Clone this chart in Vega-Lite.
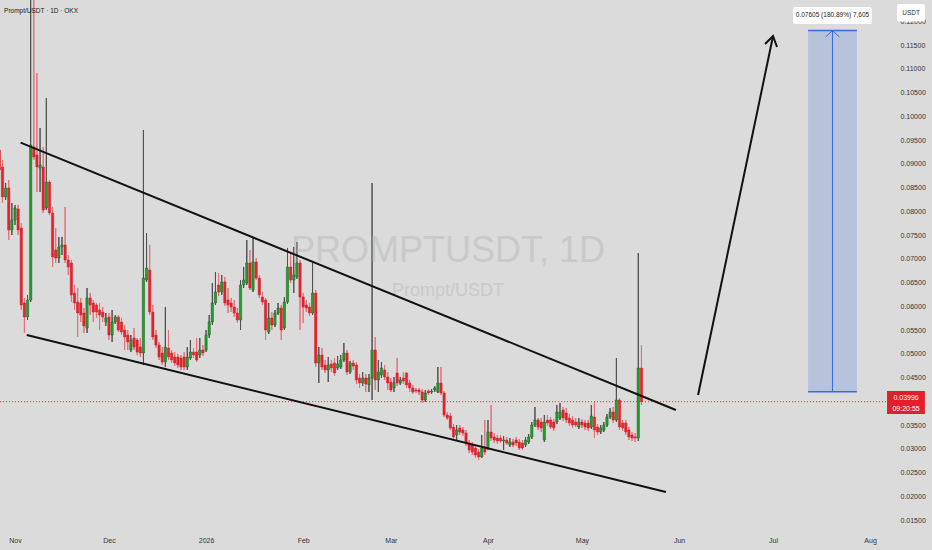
{
"$schema": "https://vega.github.io/schema/vega-lite/v6.json",
"width": 886, "height": 526, "autosize": {"type": "none"}, "padding": {"left": 0, "top": 0, "right": 46, "bottom": 24},
"background": "#dbdbdb",
"config": {"view": {"stroke": null}, "font": "Liberation Sans, Arial, sans-serif",
 "axis": {"labelOverlap": false, "labelFlush": false, "ticks": false, "domain": false, "grid": false}},
"datasets": {
"candles": [
{"t":"2025-10-27","o":0.09294,"h":0.09358,"l":0.08516,"c":0.08873},
{"t":"2025-10-28","o":0.08937,"h":0.09084,"l":0.08179,"c":0.08305},
{"t":"2025-10-29","o":0.08305,"h":0.08600,"l":0.08242,"c":0.08495},
{"t":"2025-10-30","o":0.08495,"h":0.08663,"l":0.07400,"c":0.07611},
{"t":"2025-10-31","o":0.07611,"h":0.08179,"l":0.07505,"c":0.07821},
{"t":"2025-11-01","o":0.07821,"h":0.08137,"l":0.07716,"c":0.08074},
{"t":"2025-11-02","o":0.08053,"h":0.08137,"l":0.07505,"c":0.07611},
{"t":"2025-11-03","o":0.07653,"h":0.07758,"l":0.05926,"c":0.06032},
{"t":"2025-11-04","o":0.06074,"h":0.06179,"l":0.05442,"c":0.05779},
{"t":"2025-11-05","o":0.05779,"h":0.06242,"l":0.05716,"c":0.06137},
{"t":"2025-11-06","o":0.06137,"h":0.135,"l":0.06095,"c":0.09400},
{"t":"2025-11-07","o":0.09358,"h":0.13,"l":0.09084,"c":0.09147},
{"t":"2025-11-08","o":0.09189,"h":0.10916,"l":0.08410,"c":0.08937},
{"t":"2025-11-09","o":0.08916,"h":0.09758,"l":0.08410,"c":0.08979},
{"t":"2025-11-10","o":0.08937,"h":0.09358,"l":0.07968,"c":0.08032},
{"t":"2025-11-11","o":0.08074,"h":0.10390,"l":0.08032,"c":0.08621},
{"t":"2025-11-12","o":0.08621,"h":0.08663,"l":0.07926,"c":0.07968},
{"t":"2025-11-13","o":0.07968,"h":0.08095,"l":0.06832,"c":0.07042},
{"t":"2025-11-14","o":0.07189,"h":0.07653,"l":0.06916,"c":0.07021},
{"t":"2025-11-15","o":0.07021,"h":0.07463,"l":0.06916,"c":0.07253},
{"t":"2025-11-16","o":0.07253,"h":0.07463,"l":0.07084,"c":0.07295},
{"t":"2025-11-17","o":0.07295,"h":0.08095,"l":0.06916,"c":0.06979},
{"t":"2025-11-18","o":0.06979,"h":0.07084,"l":0.06663,"c":0.06832},
{"t":"2025-11-19","o":0.06916,"h":0.06979,"l":0.06095,"c":0.06242},
{"t":"2025-11-20","o":0.06284,"h":0.06453,"l":0.05926,"c":0.06074},
{"t":"2025-11-21","o":0.06095,"h":0.06389,"l":0.05358,"c":0.05863},
{"t":"2025-11-22","o":0.06074,"h":0.06179,"l":0.05674,"c":0.05821},
{"t":"2025-11-23","o":0.05863,"h":0.05968,"l":0.05442,"c":0.05590},
{"t":"2025-11-24","o":0.05547,"h":0.06389,"l":0.05442,"c":0.06179},
{"t":"2025-11-25","o":0.06179,"h":0.06284,"l":0.05821,"c":0.06032},
{"t":"2025-11-26","o":0.06074,"h":0.06137,"l":0.05674,"c":0.05884},
{"t":"2025-11-27","o":0.06032,"h":0.06074,"l":0.05758,"c":0.05884},
{"t":"2025-11-28","o":0.05926,"h":0.06074,"l":0.05505,"c":0.05821},
{"t":"2025-11-29","o":0.05884,"h":0.05990,"l":0.05674,"c":0.05779},
{"t":"2025-11-30","o":0.05674,"h":0.05863,"l":0.05590,"c":0.05758},
{"t":"2025-12-01","o":0.05779,"h":0.05863,"l":0.05295,"c":0.05400},
{"t":"2025-12-02","o":0.05400,"h":0.05926,"l":0.05253,"c":0.05674},
{"t":"2025-12-03","o":0.05674,"h":0.05821,"l":0.05632,"c":0.05779},
{"t":"2025-12-04","o":0.05779,"h":0.05821,"l":0.05463,"c":0.05505},
{"t":"2025-12-05","o":0.05674,"h":0.05758,"l":0.05400,"c":0.05463},
{"t":"2025-12-06","o":0.05505,"h":0.05611,"l":0.05084,"c":0.05358},
{"t":"2025-12-07","o":0.05400,"h":0.05505,"l":0.05084,"c":0.05253},
{"t":"2025-12-08","o":0.05084,"h":0.05400,"l":0.05042,"c":0.05295},
{"t":"2025-12-09","o":0.05337,"h":0.05547,"l":0.05084,"c":0.05147},
{"t":"2025-12-10","o":0.05295,"h":0.05337,"l":0.04979,"c":0.05042},
{"t":"2025-12-11","o":0.05147,"h":0.05337,"l":0.04937,"c":0.05021},
{"t":"2025-12-12","o":0.05021,"h":0.09716,"l":0.04768,"c":0.06600},
{"t":"2025-12-13","o":0.06558,"h":0.07547,"l":0.06516,"c":0.06810},
{"t":"2025-12-14","o":0.06768,"h":0.07295,"l":0.05821,"c":0.05884},
{"t":"2025-12-15","o":0.05884,"h":0.06032,"l":0.05295,"c":0.05358},
{"t":"2025-12-16","o":0.05400,"h":0.05505,"l":0.05126,"c":0.05189},
{"t":"2025-12-17","o":0.05189,"h":0.05253,"l":0.04874,"c":0.04937},
{"t":"2025-12-18","o":0.05021,"h":0.05147,"l":0.04768,"c":0.04832},
{"t":"2025-12-19","o":0.04832,"h":0.05990,"l":0.04726,"c":0.05147},
{"t":"2025-12-20","o":0.05126,"h":0.05505,"l":0.04874,"c":0.04937},
{"t":"2025-12-21","o":0.05021,"h":0.05084,"l":0.04811,"c":0.04874},
{"t":"2025-12-22","o":0.04937,"h":0.05042,"l":0.04747,"c":0.04811},
{"t":"2025-12-23","o":0.04937,"h":0.05000,"l":0.04705,"c":0.04768},
{"t":"2025-12-24","o":0.04916,"h":0.04979,"l":0.04663,"c":0.04726},
{"t":"2025-12-25","o":0.04937,"h":0.05042,"l":0.04663,"c":0.04726},
{"t":"2025-12-26","o":0.04726,"h":0.05147,"l":0.04663,"c":0.04937},
{"t":"2025-12-27","o":0.04916,"h":0.05295,"l":0.04874,"c":0.05042},
{"t":"2025-12-28","o":0.05042,"h":0.05126,"l":0.04916,"c":0.04979},
{"t":"2025-12-29","o":0.05042,"h":0.05337,"l":0.04832,"c":0.04874},
{"t":"2025-12-30","o":0.04979,"h":0.05337,"l":0.04916,"c":0.05084},
{"t":"2025-12-31","o":0.05084,"h":0.05189,"l":0.04958,"c":0.05021},
{"t":"2026-01-01","o":0.05084,"h":0.05505,"l":0.05042,"c":0.05400},
{"t":"2026-01-02","o":0.05400,"h":0.05821,"l":0.05337,"c":0.05674},
{"t":"2026-01-03","o":0.05674,"h":0.06495,"l":0.05611,"c":0.06074},
{"t":"2026-01-04","o":0.06074,"h":0.06726,"l":0.06032,"c":0.06305},
{"t":"2026-01-05","o":0.06453,"h":0.06705,"l":0.06221,"c":0.06305},
{"t":"2026-01-06","o":0.06305,"h":0.06663,"l":0.06242,"c":0.06516},
{"t":"2026-01-07","o":0.06516,"h":0.06621,"l":0.06011,"c":0.06074},
{"t":"2026-01-08","o":0.06137,"h":0.06389,"l":0.05863,"c":0.06032},
{"t":"2026-01-09","o":0.06074,"h":0.06179,"l":0.05884,"c":0.05990},
{"t":"2026-01-10","o":0.05990,"h":0.06137,"l":0.05779,"c":0.05863},
{"t":"2026-01-11","o":0.05863,"h":0.05968,"l":0.05653,"c":0.05716},
{"t":"2026-01-12","o":0.05716,"h":0.06558,"l":0.05505,"c":0.06453},
{"t":"2026-01-13","o":0.06453,"h":0.06832,"l":0.06389,"c":0.06558},
{"t":"2026-01-14","o":0.06495,"h":0.07400,"l":0.06453,"c":0.06916},
{"t":"2026-01-15","o":0.06916,"h":0.07189,"l":0.06347,"c":0.06389},
{"t":"2026-01-16","o":0.06347,"h":0.07463,"l":0.06305,"c":0.06937},
{"t":"2026-01-17","o":0.06937,"h":0.07021,"l":0.06558,"c":0.06600},
{"t":"2026-01-18","o":0.06600,"h":0.06663,"l":0.06179,"c":0.06242},
{"t":"2026-01-19","o":0.06200,"h":0.06305,"l":0.06032,"c":0.06095},
{"t":"2026-01-20","o":0.06137,"h":0.06179,"l":0.05295,"c":0.05505},
{"t":"2026-01-21","o":0.05463,"h":0.06074,"l":0.05421,"c":0.05758},
{"t":"2026-01-22","o":0.05758,"h":0.05884,"l":0.05505,"c":0.05611},
{"t":"2026-01-23","o":0.05611,"h":0.05926,"l":0.05568,"c":0.05863},
{"t":"2026-01-24","o":0.05863,"h":0.06074,"l":0.05821,"c":0.05968},
{"t":"2026-01-25","o":0.05968,"h":0.06032,"l":0.05295,"c":0.05505},
{"t":"2026-01-26","o":0.05547,"h":0.06200,"l":0.05505,"c":0.06095},
{"t":"2026-01-27","o":0.06095,"h":0.07232,"l":0.06053,"c":0.06832},
{"t":"2026-01-28","o":0.06832,"h":0.07126,"l":0.06495,"c":0.06558},
{"t":"2026-01-29","o":0.06558,"h":0.07253,"l":0.06284,"c":0.06663},
{"t":"2026-01-30","o":0.06621,"h":0.07358,"l":0.06579,"c":0.06916},
{"t":"2026-01-31","o":0.06916,"h":0.06979,"l":0.05505,"c":0.06200},
{"t":"2026-02-01","o":0.06200,"h":0.06284,"l":0.05653,"c":0.05990},
{"t":"2026-02-02","o":0.06032,"h":0.06137,"l":0.05884,"c":0.05968},
{"t":"2026-02-03","o":0.05990,"h":0.06074,"l":0.05800,"c":0.05863},
{"t":"2026-02-04","o":0.05863,"h":0.06916,"l":0.05821,"c":0.06284},
{"t":"2026-02-05","o":0.06284,"h":0.06347,"l":0.04726,"c":0.04811},
{"t":"2026-02-06","o":0.04811,"h":0.05147,"l":0.04389,"c":0.04979},
{"t":"2026-02-07","o":0.04979,"h":0.05126,"l":0.04663,"c":0.04726},
{"t":"2026-02-08","o":0.04768,"h":0.04874,"l":0.04600,"c":0.04663},
{"t":"2026-02-09","o":0.04663,"h":0.04937,"l":0.04411,"c":0.04768},
{"t":"2026-02-10","o":0.04790,"h":0.04874,"l":0.04621,"c":0.04705},
{"t":"2026-02-11","o":0.04811,"h":0.04916,"l":0.04537,"c":0.04600},
{"t":"2026-02-12","o":0.04705,"h":0.04958,"l":0.04663,"c":0.04790},
{"t":"2026-02-13","o":0.04726,"h":0.04979,"l":0.04684,"c":0.04874},
{"t":"2026-02-14","o":0.04874,"h":0.05232,"l":0.04832,"c":0.05021},
{"t":"2026-02-15","o":0.05021,"h":0.05084,"l":0.04558,"c":0.04621},
{"t":"2026-02-16","o":0.04621,"h":0.04853,"l":0.04579,"c":0.04811},
{"t":"2026-02-17","o":0.04811,"h":0.04874,"l":0.04663,"c":0.04747},
{"t":"2026-02-18","o":0.04768,"h":0.04832,"l":0.04368,"c":0.04453},
{"t":"2026-02-19","o":0.04495,"h":0.04579,"l":0.04284,"c":0.04389},
{"t":"2026-02-20","o":0.04389,"h":0.04621,"l":0.04326,"c":0.04495},
{"t":"2026-02-21","o":0.04495,"h":0.04579,"l":0.04200,"c":0.04368},
{"t":"2026-02-22","o":0.04347,"h":0.04579,"l":0.04200,"c":0.04495},
{"t":"2026-02-23","o":0.04495,"h":0.08600,"l":0.04032,"c":0.05084},
{"t":"2026-02-24","o":0.05084,"h":0.05358,"l":0.04242,"c":0.04453},
{"t":"2026-02-25","o":0.04453,"h":0.04874,"l":0.04200,"c":0.04621},
{"t":"2026-02-26","o":0.04558,"h":0.04832,"l":0.04495,"c":0.04705},
{"t":"2026-02-27","o":0.04663,"h":0.04768,"l":0.04453,"c":0.04516},
{"t":"2026-02-28","o":0.04516,"h":0.04621,"l":0.04242,"c":0.04389},
{"t":"2026-03-01","o":0.04411,"h":0.04495,"l":0.04200,"c":0.04242},
{"t":"2026-03-02","o":0.04284,"h":0.04516,"l":0.04200,"c":0.04389},
{"t":"2026-03-03","o":0.04600,"h":0.04916,"l":0.04326,"c":0.04389},
{"t":"2026-03-04","o":0.04389,"h":0.04516,"l":0.04347,"c":0.04453},
{"t":"2026-03-05","o":0.04495,"h":0.04621,"l":0.04368,"c":0.04432},
{"t":"2026-03-06","o":0.04600,"h":0.04621,"l":0.04284,"c":0.04347},
{"t":"2026-03-07","o":0.04389,"h":0.04453,"l":0.04200,"c":0.04284},
{"t":"2026-03-08","o":0.04284,"h":0.04347,"l":0.04158,"c":0.04200},
{"t":"2026-03-09","o":0.04242,"h":0.04284,"l":0.04179,"c":0.04221},
{"t":"2026-03-10","o":0.04242,"h":0.04284,"l":0.04137,"c":0.04200},
{"t":"2026-03-11","o":0.04200,"h":0.04263,"l":0.03968,"c":0.04032},
{"t":"2026-03-12","o":0.04032,"h":0.04242,"l":0.03989,"c":0.04179},
{"t":"2026-03-13","o":0.04221,"h":0.04263,"l":0.04137,"c":0.04179},
{"t":"2026-03-14","o":0.04200,"h":0.04263,"l":0.04158,"c":0.04221},
{"t":"2026-03-15","o":0.04242,"h":0.04326,"l":0.04200,"c":0.04284},
{"t":"2026-03-16","o":0.04200,"h":0.04726,"l":0.04179,"c":0.04389},
{"t":"2026-03-17","o":0.04389,"h":0.04726,"l":0.04137,"c":0.04179},
{"t":"2026-03-18","o":0.04179,"h":0.04221,"l":0.03674,"c":0.03716},
{"t":"2026-03-19","o":0.03716,"h":0.03779,"l":0.03611,"c":0.03653},
{"t":"2026-03-20","o":0.03695,"h":0.03758,"l":0.03400,"c":0.03442},
{"t":"2026-03-21","o":0.03463,"h":0.03526,"l":0.03189,"c":0.03253},
{"t":"2026-03-22","o":0.03295,"h":0.03505,"l":0.03189,"c":0.03400},
{"t":"2026-03-23","o":0.03442,"h":0.03505,"l":0.03295,"c":0.03358},
{"t":"2026-03-24","o":0.03400,"h":0.03463,"l":0.03274,"c":0.03337},
{"t":"2026-03-25","o":0.03337,"h":0.03400,"l":0.03063,"c":0.03126},
{"t":"2026-03-26","o":0.03126,"h":0.03189,"l":0.02916,"c":0.02979},
{"t":"2026-03-27","o":0.03084,"h":0.03147,"l":0.02874,"c":0.02937},
{"t":"2026-03-28","o":0.03021,"h":0.03084,"l":0.02811,"c":0.02874},
{"t":"2026-03-29","o":0.02937,"h":0.03000,"l":0.02768,"c":0.02832},
{"t":"2026-03-30","o":0.02832,"h":0.03295,"l":0.02811,"c":0.03021},
{"t":"2026-03-31","o":0.03042,"h":0.03611,"l":0.02874,"c":0.02937},
{"t":"2026-04-01","o":0.03021,"h":0.03611,"l":0.02979,"c":0.03358},
{"t":"2026-04-02","o":0.03358,"h":0.03926,"l":0.03168,"c":0.03232},
{"t":"2026-04-03","o":0.03253,"h":0.03337,"l":0.03126,"c":0.03189},
{"t":"2026-04-04","o":0.03232,"h":0.03295,"l":0.03105,"c":0.03168},
{"t":"2026-04-05","o":0.03232,"h":0.03295,"l":0.03126,"c":0.03168},
{"t":"2026-04-06","o":0.03168,"h":0.03274,"l":0.02979,"c":0.03189},
{"t":"2026-04-07","o":0.03189,"h":0.03253,"l":0.03084,"c":0.03126},
{"t":"2026-04-08","o":0.03084,"h":0.03232,"l":0.03042,"c":0.03147},
{"t":"2026-04-09","o":0.03147,"h":0.03211,"l":0.03042,"c":0.03084},
{"t":"2026-04-10","o":0.03189,"h":0.03253,"l":0.03063,"c":0.03126},
{"t":"2026-04-11","o":0.03147,"h":0.03211,"l":0.02979,"c":0.03021},
{"t":"2026-04-12","o":0.03126,"h":0.03189,"l":0.02979,"c":0.03021},
{"t":"2026-04-13","o":0.03084,"h":0.03253,"l":0.03042,"c":0.03189},
{"t":"2026-04-14","o":0.03147,"h":0.03316,"l":0.03105,"c":0.03253},
{"t":"2026-04-15","o":0.03253,"h":0.03568,"l":0.03211,"c":0.03505},
{"t":"2026-04-16","o":0.03505,"h":0.03884,"l":0.03463,"c":0.03611},
{"t":"2026-04-17","o":0.03611,"h":0.03653,"l":0.03400,"c":0.03463},
{"t":"2026-04-18","o":0.03568,"h":0.03653,"l":0.03358,"c":0.03442},
{"t":"2026-04-19","o":0.03189,"h":0.03716,"l":0.03147,"c":0.03568},
{"t":"2026-04-20","o":0.03611,"h":0.03716,"l":0.03484,"c":0.03547},
{"t":"2026-04-21","o":0.03611,"h":0.03674,"l":0.03421,"c":0.03463},
{"t":"2026-04-22","o":0.03568,"h":0.03632,"l":0.03379,"c":0.03442},
{"t":"2026-04-23","o":0.03568,"h":0.03926,"l":0.03526,"c":0.03779},
{"t":"2026-04-24","o":0.03653,"h":0.03968,"l":0.03611,"c":0.03779},
{"t":"2026-04-25","o":0.03821,"h":0.03884,"l":0.03589,"c":0.03653},
{"t":"2026-04-26","o":0.03758,"h":0.03863,"l":0.03547,"c":0.03611},
{"t":"2026-04-27","o":0.03653,"h":0.03737,"l":0.03484,"c":0.03547},
{"t":"2026-04-28","o":0.03611,"h":0.03695,"l":0.03442,"c":0.03505},
{"t":"2026-04-29","o":0.03568,"h":0.03653,"l":0.03463,"c":0.03505},
{"t":"2026-04-30","o":0.03463,"h":0.03653,"l":0.03421,"c":0.03568},
{"t":"2026-05-01","o":0.03568,"h":0.03632,"l":0.03442,"c":0.03505},
{"t":"2026-05-02","o":0.03547,"h":0.03611,"l":0.03400,"c":0.03463},
{"t":"2026-05-03","o":0.03547,"h":0.03611,"l":0.03379,"c":0.03442},
{"t":"2026-05-04","o":0.03463,"h":0.03926,"l":0.03421,"c":0.03695},
{"t":"2026-05-05","o":0.03674,"h":0.03989,"l":0.03232,"c":0.03400},
{"t":"2026-05-06","o":0.03463,"h":0.03526,"l":0.03295,"c":0.03358},
{"t":"2026-05-07","o":0.03358,"h":0.03505,"l":0.03316,"c":0.03442},
{"t":"2026-05-08","o":0.03400,"h":0.03568,"l":0.03358,"c":0.03505},
{"t":"2026-05-09","o":0.03505,"h":0.03737,"l":0.03463,"c":0.03674},
{"t":"2026-05-10","o":0.03674,"h":0.03863,"l":0.03632,"c":0.03779},
{"t":"2026-05-11","o":0.03779,"h":0.03884,"l":0.03547,"c":0.03611},
{"t":"2026-05-12","o":0.03611,"h":0.04916,"l":0.03568,"c":0.04032},
{"t":"2026-05-13","o":0.04032,"h":0.04074,"l":0.03400,"c":0.03463},
{"t":"2026-05-14","o":0.03547,"h":0.03611,"l":0.03379,"c":0.03442},
{"t":"2026-05-15","o":0.03547,"h":0.03611,"l":0.03295,"c":0.03358},
{"t":"2026-05-16","o":0.03400,"h":0.03463,"l":0.03189,"c":0.03253},
{"t":"2026-05-17","o":0.03295,"h":0.03358,"l":0.03168,"c":0.03232},
{"t":"2026-05-18","o":0.03253,"h":0.03337,"l":0.03147,"c":0.03232},
{"t":"2026-05-19","o":0.03232,"h":0.07126,"l":0.03168,"c":0.04705},
{"t":"2026-05-20","o":0.04705,"h":0.05189,"l":0.03926,"c":0.03996}
],
"trend": [
{"id":"upper","t":"2025-11-02T19:00:00Z","p":0.09449},
{"id":"upper","t":"2026-05-31T00:00:00Z","p":0.03821},
{"id":"lower","t":"2025-11-04T18:00:00Z","p":0.05400},
{"id":"lower","t":"2026-05-27T20:00:00Z","p":0.02095},
{"id":"arrow","t":"2026-06-07T02:00:00Z","p":0.04137},
{"id":"arrow","t":"2026-07-01T00:30:00Z","p":0.11695},
{"id":"head","t":"2026-06-28T11:00:00Z","p":0.11526},
{"id":"head","t":"2026-07-01T00:30:00Z","p":0.11695},
{"id":"head","t":"2026-07-02T07:00:00Z","p":0.11463}
]
},
"layer": [
{"data": {"name":"candles"},
 "mark": {"type":"rule","strokeWidth":1},
 "encoding": {
  "x":{"field":"t","type":"temporal","scale":{"type":"utc","domain":[1761541200000,1785981600000],"nice":false,"padding":0},
   "axis":{"values":[1761955200000,1764547200000,1767225600000,1769904000000,1772323200000,1775001600000,1777593600000,1780272000000,1782864000000,1785542400000],
    "labelExpr":"utcFormat(datum.value, '%b') == 'Jan' ? utcFormat(datum.value, '%Y') : utcFormat(datum.value, '%b')",
    "title":null,"ticks":false,"domain":false,"grid":false,"labelPadding":10,"labelFontSize":7,"labelColor":"#333333","labelOverlap":false,"labelFlush":false,"tickCount":40}},
  "y":{"field":"l","type":"quantitative","scale":{"domain":[0.013789,0.124526],"nice":false,"zero":false},
   "axis":{"orient":"right","values":[0.015,0.02,0.025,0.03,0.035,0.045,0.05,0.055,0.06,0.065,0.07,0.075,0.08,0.085,0.09,0.095,0.1,0.105,0.11,0.115,0.12],
    "tickCount":60,"format":".5f","title":null,"ticks":false,"domain":false,"grid":false,"labelPadding":14,"labelFontSize":7,"labelColor":"#333333","labelAlign":"left","labelBaseline":"middle","labelOverlap":false,"labelFlush":false}},
  "y2":{"field":"h"},
  "color":{"condition":{"test":"datum.c >= datum.o","value":"#505050"},"value":"#e5707a"}}},
{"data": {"values": [{"t":"2026-03-19T06:00:00Z","p":0.06937,"s":"PROMPTUSDT, 1D"}]},
 "mark": {"type":"text","fontSize":36,"color":"#c9c9c9","align":"center","baseline":"alphabetic"},
 "encoding": {"x":{"field":"t","type":"temporal"},
  "y":{"field":"p","type":"quantitative"},
  "text":{"field":"s"}}},
{"data": {"values": [{"t":"2026-03-19T06:00:00Z","p":0.06221,"s":"Prompt/USDT"}]},
 "mark": {"type":"text","fontSize":18,"color":"#c9c9c9","align":"center","baseline":"alphabetic"},
 "encoding": {"x":{"field":"t","type":"temporal"},
  "y":{"field":"p","type":"quantitative"},
  "text":{"field":"s"}}},
{"data": {"values": [{"t":"2026-07-12T05:00:00Z","t2":"2026-07-27T19:00:00Z","p":0.04204,"p2":0.11809}]},
 "mark": {"type":"rect","color":"#4a78dc","opacity":0.25},
 "encoding": {"x":{"field":"t","type":"temporal"},"x2":{"field":"t2"},
  "y":{"field":"p","type":"quantitative"},"y2":{"field":"p2"}}},
{"data": {"values": [{"p":0.03996}]},
 "mark": {"type":"rule","color":"#e0303a","strokeDash":[1,2],"strokeWidth":1},
 "encoding": {"y":{"field":"p","type":"quantitative"}}},
{"data": {"name":"candles"},
 "mark": {"type":"rule","strokeWidth":1},
 "encoding": {
  "x":{"field":"t","type":"temporal"},
  "y":{"field":"l","type":"quantitative"},
  "y2":{"field":"h"},
  "color":{"condition":{"test":"datum.c >= datum.o","value":"#505050"},"value":"#e5707a"}}},
{"data": {"name":"candles"},
 "mark": {"type":"bar","size":2.3,"strokeWidth":0.5},
 "encoding": {
  "x":{"field":"t","type":"temporal"},
  "y":{"field":"o","type":"quantitative"},
  "y2":{"field":"c"},
  "fill":{"condition":{"test":"datum.c >= datum.o","value":"#22a02d"},"value":"#e3222b"},
  "stroke":{"condition":{"test":"datum.c >= datum.o","value":"#1b5e20"},"value":"#d81e28"}}},
{"data": {"name":"trend"},
 "mark": {"type":"line","color":"#111111","strokeWidth":2},
 "encoding": {"x":{"field":"t","type":"temporal"},
  "y":{"field":"p","type":"quantitative"},
  "detail":{"field":"id"}}},
{"data": {"values": [{"t":"2026-07-12T05:00:00Z","t2":"2026-07-27T19:00:00Z","p":0.11809},{"t":"2026-07-12T05:00:00Z","t2":"2026-07-27T19:00:00Z","p":0.04204}]},
 "mark": {"type":"rule","color":"#3a6ae0","strokeWidth":1.5},
 "encoding": {"x":{"field":"t","type":"temporal"},"x2":{"field":"t2"},
  "y":{"field":"p","type":"quantitative"}}},
{"data": {"values": [{"t":"2026-07-20T00:00:00Z","p":0.04204,"p2":0.11809}]},
 "mark": {"type":"rule","color":"#3a6ae0","strokeWidth":1},
 "encoding": {"x":{"field":"t","type":"temporal"},
  "y":{"field":"p","type":"quantitative"},"y2":{"field":"p2"}}},
{"data": {"values": [{"t":"2026-07-17T19:00:00Z","p":0.11674},{"t":"2026-07-20T00:00:00Z","p":0.11809},{"t":"2026-07-22T06:00:00Z","p":0.11674}]},
 "mark": {"type":"line","color":"#3a6ae0","strokeWidth":1},
 "encoding": {"x":{"field":"t","type":"temporal"},
  "y":{"field":"p","type":"quantitative"}}},
{"data": {"values": [{"t":"2026-07-07T10:00:00Z","t2":"2026-08-01T14:00:00Z","p":0.11947,"p2":0.12305}]},
 "mark": {"type":"rect","color":"#ffffff","cornerRadius":2},
 "encoding": {"x":{"field":"t","type":"temporal"},"x2":{"field":"t2"},
  "y":{"field":"p","type":"quantitative"},"y2":{"field":"p2"}}},
{"data": {"values": [{"t":"2026-07-20T00:00:00Z","p":0.12127,"s":"0.07605 (180.89%) 7,605"}]},
 "mark": {"type":"text","fontSize":6.5,"color":"#222222","align":"center","baseline":"middle"},
 "encoding": {"x":{"field":"t","type":"temporal"},
  "y":{"field":"p","type":"quantitative"},"text":{"field":"s"}}},
{"data": {"values": [{"t":"2025-10-28T12:00:00Z","p":0.12221,"s":"Prompt/USDT · 1D · OKX"}]},
 "mark": {"type":"text","fontSize":6.5,"color":"#222222","align":"left","baseline":"middle"},
 "encoding": {"x":{"field":"t","type":"temporal"},
  "y":{"field":"p","type":"quantitative"},"text":{"field":"s"}}},
{"data": {"values": [{"t":"2026-08-06T10:00:00Z","t2":"2026-08-18T12:00:00Z","p":0.03737,"p2":0.04221}]},
 "mark": {"type":"rect","color":"#e0202a"},
 "encoding": {"x":{"field":"t","type":"temporal"},"x2":{"field":"t2"},
  "y":{"field":"p","type":"quantitative"},"y2":{"field":"p2"}}},
{"data": {"values": [{"t":"2026-08-12T12:00:00Z","p":0.04074,"s":"0.03996"},{"t":"2026-08-12T12:00:00Z","p":0.03842,"s":"09:20:55"}]},
 "mark": {"type":"text","fontSize":7,"color":"#ffffff","align":"center","baseline":"middle"},
 "encoding": {"x":{"field":"t","type":"temporal"},
  "y":{"field":"p","type":"quantitative"},"text":{"field":"s"}}},
{"data": {"values": [{"t":"2026-08-09T14:00:00Z","t2":"2026-08-18T12:00:00Z","p":0.12000,"p2":0.12369}]},
 "mark": {"type":"rect","color":"#ffffff","cornerRadius":2},
 "encoding": {"x":{"field":"t","type":"temporal"},"x2":{"field":"t2"},
  "y":{"field":"p","type":"quantitative"},"y2":{"field":"p2"}}},
{"data": {"values": [{"t":"2026-08-14T02:00:00Z","p":0.12179,"s":"USDT"}]},
 "mark": {"type":"text","fontSize":6.5,"color":"#333333","align":"center","baseline":"middle"},
 "encoding": {"x":{"field":"t","type":"temporal"},
  "y":{"field":"p","type":"quantitative"},"text":{"field":"s"}}}
]
}
